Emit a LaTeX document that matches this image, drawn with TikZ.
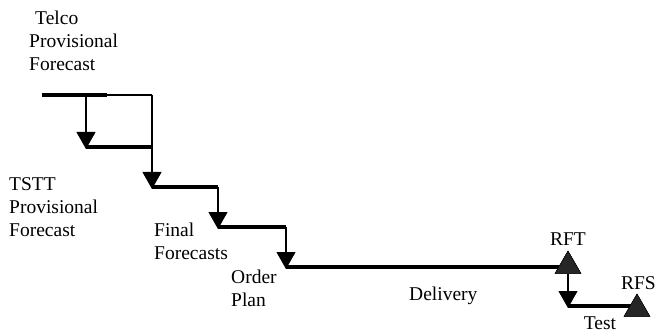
\documentclass[tikz,border=0pt]{standalone}
\usepackage{fontspec}
\setmainfont{Liberation Serif}
\usetikzlibrary{arrows.meta,shapes.geometric}
\tikzset{
  bar/.style={line width=4.5pt},
  link/.style={line width=1.1pt},
  drop/.style={link,-{Triangle[width=19pt,length=17pt]}},
  lbl/.style={inner sep=0pt,align=left,font=\fontsize{19.5}{23}\selectfont},
  milestone/.style={regular polygon,regular polygon sides=3,fill=black!85,draw=black,
    inner sep=0pt,minimum size=30pt}
}

\begin{document}
\begin{tikzpicture}[x=1pt,y=-1pt]
        \useasboundingbox (0,0) rectangle (656,334);
        % step points
        \coordinate (t0) at (42,95);
        \coordinate (t1) at (107,95);
        \coordinate (t2) at (152,95);
        \coordinate (a0) at (86,95);
        \coordinate (a1) at (86,147);
        \coordinate (a2) at (152,147);
        \coordinate (b1) at (152,187);
        \coordinate (b2) at (218,187);
        \coordinate (c1) at (218,227);
        \coordinate (c2) at (286,227);
        \coordinate (d1) at (286,267);
        \coordinate (e1) at (568,306);
        % milestones
        \node[milestone] (rft) at (568,266) {};
        \node[milestone] (rfs) at (637,309) {};
        % bars
        \draw[bar] (t0) -- (t1);
        \draw[link] (t1) -- (t2);
        \draw[bar] (a1) -- (a2);
        \draw[bar] (b1) -- (b2);
        \draw[bar] (c1) -- (c2);
        \draw[bar] (d1) -- (rft.center |- d1);
        \draw[bar] (e1) -- (rfs.center |- e1);
        % arrows
        \draw[drop] (a0) -- ([yshift=-2pt]a1);
        \draw[drop] (t2) -- ([yshift=-2pt]b1);
        \draw[drop] (b2) -- ([yshift=-2pt]c1);
        \draw[drop] (c2) -- ([yshift=-2pt]d1);
        \draw[drop] (rft.south -| e1) -- ([yshift=-2pt]e1);
        \node[milestone] at (rft) {};
        \node[milestone] at (rfs) {};
        % labels
        \node[lbl,anchor=north west] (telco) at (29,11) {\hspace{6pt}Telco\\Provisional\\Forecast};
        \node[lbl,anchor=north west] (tstt) at (9,177) {TSTT\\Provisional\\Forecast};
        \node[lbl,anchor=north west] (final) at (154,223) {Final\\Forecasts};
        \node[lbl,anchor=north west] (order) at (231,270) {Order\\Plan};
        \node[lbl,anchor=west] (delivery) at (409,296) {Delivery};
        \node[lbl,anchor=south] (rftl) at (568,246) {RFT};
        \node[lbl,anchor=south east] (rfsl) at (656,290) {RFS};
        \node[lbl,anchor=north] (test) at (600,317) {Test};
    \end{tikzpicture}
\end{document}
